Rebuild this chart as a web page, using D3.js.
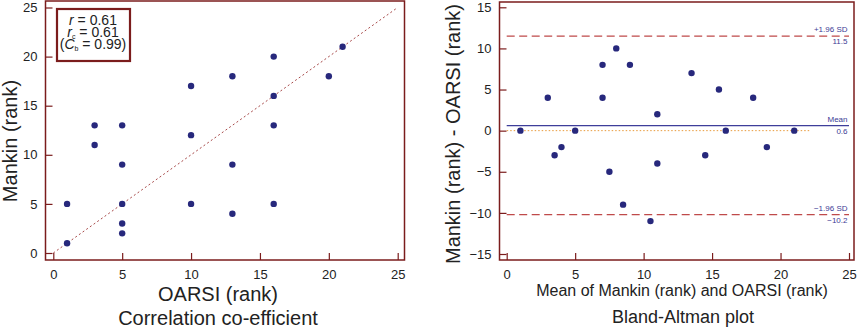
<!DOCTYPE html>
<html>
<head>
<meta charset="utf-8">
<script src="https://cdn.jsdelivr.net/npm/d3@7"></script>
<style>
  html, body { margin: 0; padding: 0; background: #fff; }
  svg { display: block; font-family: "Liberation Sans", Arial, sans-serif; }
</style>
</head>
<body>
<div id="chart"></div>
<script>
// paired ranks, OARSI vs Mankin
const oarsiRank  = [1, 1, 3, 3, 5, 5, 5, 5, 5, 10, 10, 10, 13, 13, 13, 16, 16, 16, 16, 20, 21];
const mankinRank = [5, 1, 13, 11, 13, 9, 5, 3, 2, 17, 12, 5, 18, 9, 4, 20, 16, 13, 5, 18, 21];

// Bland-Altman: mean of the two ranks vs difference
const baMean = [3, 1, 8, 7, 9, 7, 5, 4, 3.5, 13.5, 11, 7.5, 15.5, 11, 8.5, 18, 16, 14.5, 10.5, 19, 21];
const baDiff = [4, 0, 10, 8, 8, 4, 0, -2, -3, 7, 2, -5, 5, -4, -9, 4, 0, -3, -11, -2, 0];

const axisTicks = [0, 5, 10, 15, 20, 25];
const diffTicks = [-15, -10, -5, 0, 5, 10, 15];

const limits = [
  { key: "upper", value: 11.5, label: "+1.96 SD", text: "11.5" },
  { key: "mean",  value: 0.6,  label: "Mean",     text: "0.6" },
  { key: "lower", value: -10.2, label: "\u22121.96 SD", text: "\u221210.2" }
];

const statLines = [
  { sym: "r", sub: "", val: " = 0.61" },
  { sym: "r", sub: "c", val: " = 0.61" },
  { sym: "C", sub: "b", val: " = 0.99", paren: true }
];

const W = 858, H = 330;
const frameColor = "#7b1c1c";
const dotColor = "#27287c";

const svg = d3.select("#chart").append("svg")
  .attr("width", W).attr("height", H);

// frame + inward ticks shared by both panels
function panel(g, x, y, frame, xTicks, yTicks) {
  g.append("rect")
    .attr("x", frame.x0).attr("y", frame.y0)
    .attr("width", frame.x1 - frame.x0).attr("height", frame.y1 - frame.y0)
    .attr("fill", "none").attr("stroke", frameColor).attr("stroke-width", 1.5);

  const ax = g.append("g").attr("transform", `translate(0,${frame.y1})`)
    .call(d3.axisBottom(x).tickValues(xTicks).tickSize(-7).tickPadding(10));
  const ay = g.append("g").attr("transform", `translate(${frame.x0},0)`)
    .call(d3.axisLeft(y).tickValues(yTicks).tickSize(-7).tickPadding(8));

  [ax, ay].forEach(a => {
    a.select(".domain").remove();
    a.selectAll("line").attr("stroke", frameColor).attr("stroke-width", 1.2);
    a.selectAll("text").attr("font-size", 13).attr("fill", "#222")
      .attr("font-family", "Liberation Sans, Arial, sans-serif");
  });
}

// ---- left: correlation scatter ----
const xL = d3.scaleLinear().domain([0, 25]).range([53.3, 397.7]);
const yL = d3.scaleLinear().domain([0, 25]).range([253, 7.5]);
const gL = svg.append("g");

gL.append("line")
  .attr("x1", xL(0)).attr("y1", yL(0)).attr("x2", xL(25)).attr("y2", yL(25))
  .attr("stroke", "#a84a4a").attr("stroke-width", 1).attr("stroke-dasharray", "2,2.5");

panel(gL, xL, yL, { x0: 45.5, x1: 404.5, y0: 1, y1: 260 }, axisTicks, axisTicks);

gL.selectAll("circle").data(oarsiRank).join("circle")
  .attr("cx", d => xL(d))
  .attr("cy", (d, i) => yL(mankinRank[i]))
  .attr("r", 3.2)
  .attr("fill", dotColor);

// statistics box
gL.append("rect")
  .attr("x", 57).attr("y", 9).attr("width", 73).attr("height", 52)
  .attr("fill", "#fff").attr("stroke", frameColor).attr("stroke-width", 2.2);

const st = gL.append("g").attr("font-size", 14).attr("fill", "#222");
statLines.forEach((s, i) => {
  const t = st.append("text")
    .attr("x", 93).attr("y", 25 + i * 12)
    .attr("text-anchor", "middle");
  if (s.paren) t.append("tspan").text("(");
  t.append("tspan").attr("font-style", "italic").text(s.sym);
  if (s.sub) t.append("tspan").attr("font-size", 7).attr("dy", 2).text(s.sub);
  t.append("tspan").attr("dy", s.sub ? -2 : 0).text(s.val + (s.paren ? ")" : ""));
});

gL.append("text")
  .attr("transform", `translate(17,141) rotate(-90)`)
  .attr("text-anchor", "middle").attr("font-size", 20).attr("fill", "#222")
  .text("Mankin (rank)");
gL.append("text")
  .attr("x", 218).attr("y", 301).attr("text-anchor", "middle")
  .attr("font-size", 20).attr("fill", "#222").text("OARSI (rank)");
gL.append("text")
  .attr("x", 218).attr("y", 325).attr("text-anchor", "middle")
  .attr("font-size", 20).attr("fill", "#222").text("Correlation co-efficient");

// ---- right: Bland-Altman ----
const xR = d3.scaleLinear().domain([0, 25]).range([506.7, 849]);
const yR = d3.scaleLinear().domain([-15, 15]).range([254, 7.3]);
const gR = svg.append("g");

// zero reference
gR.append("line")
  .attr("x1", xR(0)).attr("x2", xR(22.2)).attr("y1", yR(0)).attr("y2", yR(0))
  .attr("stroke", "#e89a3c").attr("stroke-width", 1).attr("stroke-dasharray", "1.5,2");

limits.forEach(l => {
  const line = gR.append("line")
    .attr("x1", xR(0)).attr("x2", xR(25)).attr("y1", yR(l.value)).attr("y2", yR(l.value));
  if (l.key === "mean") {
    line.attr("stroke", "#3e3e9a").attr("stroke-width", 1.2);
  } else {
    line.attr("stroke", "#bf4a4a").attr("stroke-width", 1.2).attr("stroke-dasharray", "8,4.5");
  }
  gR.append("text")
    .attr("x", xR(25) - 1.5).attr("y", yR(l.value) - 4)
    .attr("text-anchor", "end").attr("font-size", 8).attr("fill", "#3b3b95")
    .text(l.label);
  gR.append("text")
    .attr("x", xR(25) - 1.5).attr("y", yR(l.value) + 8)
    .attr("text-anchor", "end").attr("font-size", 8).attr("fill", "#3b3b95")
    .text(l.text);
});

panel(gR, xR, yR, { x0: 499.5, x1: 854, y0: 2, y1: 260 }, axisTicks, diffTicks);

gR.selectAll("circle").data(baMean).join("circle")
  .attr("cx", d => xR(d))
  .attr("cy", (d, i) => yR(baDiff[i]))
  .attr("r", 3.2)
  .attr("fill", dotColor);

gR.append("text")
  .attr("transform", `translate(460,134) rotate(-90)`)
  .attr("text-anchor", "middle").attr("font-size", 20).attr("fill", "#222")
  .text("Mankin (rank) - OARSI (rank)");
gR.append("text")
  .attr("x", 682).attr("y", 296).attr("text-anchor", "middle")
  .attr("font-size", 16).attr("fill", "#222")
  .text("Mean of Mankin (rank) and OARSI (rank)");
gR.append("text")
  .attr("x", 683).attr("y", 323).attr("text-anchor", "middle")
  .attr("font-size", 18).attr("fill", "#222").text("Bland-Altman plot");
</script>
</body>
</html>
